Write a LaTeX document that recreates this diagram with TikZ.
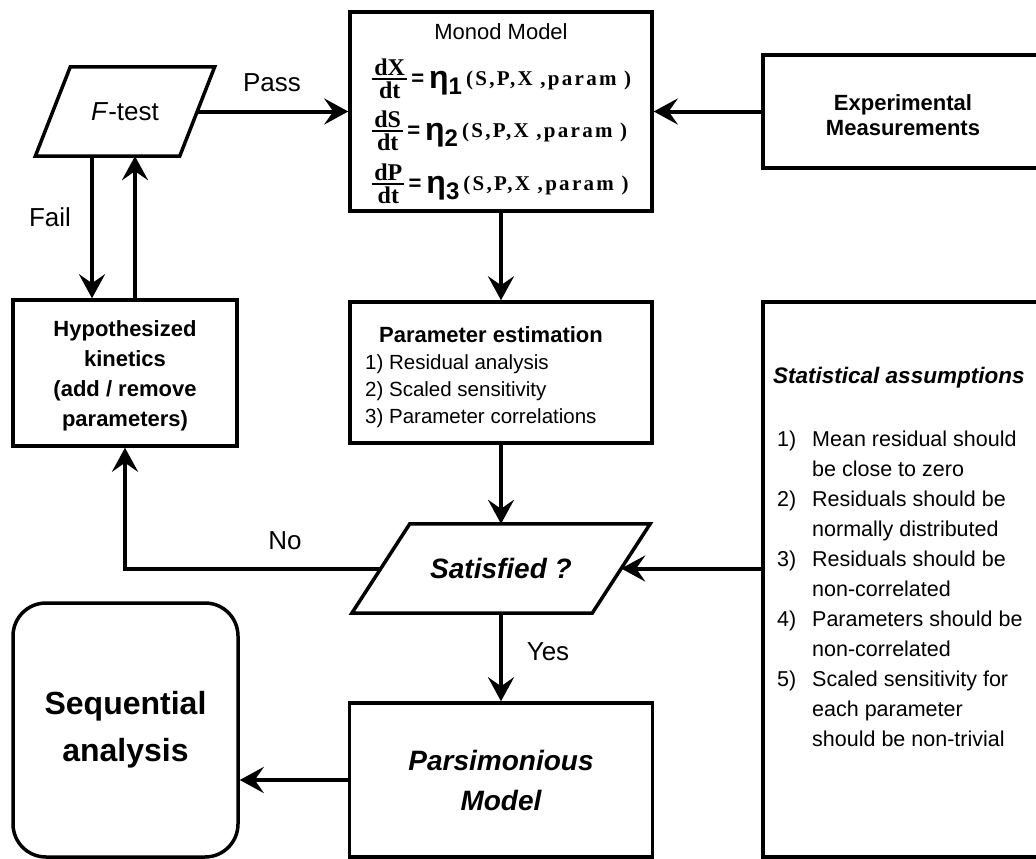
\documentclass[tikz,border=0pt]{standalone}
\usepackage{fontspec}
\setmainfont{Liberation Sans}
\newfontfamily\slabfont{Liberation Serif Bold}
\newfontfamily\argfont{Liberation Serif Bold}[LetterSpace=11]
\usetikzlibrary{arrows.meta,calc}

% font size and leading given in pixels (1px = 1pt here)
\newcommand\px[2]{\fontsize{#1}{#2}\selectfont}

% one rate equation of the Monod model: d#1/dt = eta_#2(S,P,X,param)
\newcommand\monodeq[2]{%
  {\px{24}{24}\slabfont
  $\textstyle{\hbox{\kern2pt#1\kern2pt}\above 2pt\hbox{dt}}$}%
  \hspace{3pt}{\px{22}{22}\bfseries =}\hspace{5pt}%
  \raisebox{-3pt}{\px{32}{32}\bfseries η}%
  \raisebox{-9pt}{\px{24}{24}\bfseries #2}\hspace{4pt}%
  {\px{21}{21}\argfont (S,P,X ,param )}}

% numbered entry with hanging indent
\newcommand\itm[1]{\makebox[35pt][l]{#1}}
\newcommand\cont{\hspace*{35pt}}

\begin{document}
\begin{tikzpicture}[x=1pt,y=-1pt,
  box/.style={draw, rectangle, inner sep=0pt, line width=3.5pt},
  shapeline/.style={draw, line width=3.5pt, line join=miter},
  arr/.style={-{Stealth[length=24pt,width=26pt,inset=9pt]}, line width=4pt},
  lbl/.style={font=\px{26}{26}},
]
\useasboundingbox (0,0) rectangle (1036,859);
\clip (0,0) rectangle (1036,859);

% ---- boxes ----
\node[box, minimum width=302pt, minimum height=199pt] (monod) at (501,111.5) {};
\node[font=\px{22}{22}] (monodtitle) at (501,32) {Monod Model};
\node[anchor=west, inner sep=0pt] (eqx) at (371,79) {\monodeq{dX}{1}};
\node[anchor=west, inner sep=0pt] (eqs) at (371,131) {\monodeq{dS}{2}};
\node[anchor=west, inner sep=0pt] (eqp) at (371,184) {\monodeq{dP}{3}};

\node[box, minimum width=280pt, minimum height=113pt] (exper) at (903,111.5) {};
\node[align=center, font=\px{22}{25}\bfseries] (expertext) at (903,115)
      {Experimental\\Measurements};

% F-test decision (parallelogram drawn round its mid-line box)
\node[minimum width=144pt, minimum height=89pt, inner sep=0pt,
      font=\px{26}{26}] (ftest) at (125,111.5) {\textit{F}-test};
\draw[shapeline] ($(ftest.north west)+(17.5,0)$) -- ($(ftest.north east)+(17.5,0)$)
  -- ($(ftest.south east)+(-17.5,0)$) -- ($(ftest.south west)+(-17.5,0)$) -- cycle;

\node[box, minimum width=224pt, minimum height=146pt] (hypo) at (125,373) {};
\node[align=center, font=\px{22}{30}\bfseries] (hypotext) at (125,376)
      {Hypothesized\\kinetics\\(add / remove\\parameters)};

\node[box, minimum width=302pt, minimum height=141pt] (param) at (501,372.5) {};
\node[font=\px{22}{22}\bfseries] (paramtitle) at (491,335) {Parameter estimation};
\node[anchor=west, align=left, inner sep=0pt, font=\px{20.5}{27}] (paramlist) at (365,391)
  {1) Residual analysis\\2) Scaled sensitivity\\3) Parameter correlations};

\node[box, minimum width=282pt, minimum height=555pt] (stat) at (904,579.5) {};
\node[anchor=west, inner sep=0pt, font=\px{22.5}{22.5}\bfseries\itshape] (stattitle) at (773,378)
  {Statistical assumptions};
\node[anchor=west, align=left, inner sep=0pt, font=\px{21.5}{30}] (statlist) at (777,589)
  {\itm{1)}Mean residual should\\\cont be close to zero\\
   \itm{2)}Residuals should be\\\cont normally distributed\\
   \itm{3)}Residuals should be\\\cont non-correlated\\
   \itm{4)}Parameters should be\\\cont non-correlated\\
   \itm{5)}Scaled sensitivity for\\\cont each parameter\\\cont should be non-trivial};

% Satisfied? decision
\node[minimum width=240pt, minimum height=89pt, inner sep=0pt,
      font=\px{28}{28}\bfseries\itshape] (sat) at (501,568.5) {Satisfied ?};
\draw[shapeline] ($(sat.north west)+(29,0)$) -- ($(sat.north east)+(29,0)$)
  -- ($(sat.south east)+(-29,0)$) -- ($(sat.south west)+(-29,0)$) -- cycle;

\node[box, minimum width=303pt, minimum height=154pt, align=center,
      font=\px{28}{40}\bfseries\itshape] (pars) at (501,780) {Parsimonious\\Model};

\node[box, rounded corners=33pt, minimum width=225pt, minimum height=254pt, align=center,
      font=\px{32}{47}\bfseries] (seq) at (125.5,730) {Sequential\\analysis};

% ---- connectors ----
\draw[arr] (ftest.east) -- (monod.west);
\draw[arr] (exper.west) -- (monod.east);
\draw[arr] (monod.south) -- (param.north);
\draw[arr] (param.south) -- (sat.north);
\draw[arr] (sat.south) -- (pars.north);
\draw[arr] (pars.west) -- (pars.west -| seq.east);
\draw[arr] (sat.east -| stat.west) -- (sat.east);
\draw[arr] (sat.west) -| (hypo.south);
\draw[arr] ($(ftest.south)+(-33,0)$) -- ($(hypo.north)+(-33,0)$);
\draw[arr] ($(hypo.north)+(10,0)$) -- ($(ftest.south)+(10,0)$);

% ---- connector labels ----
\node[lbl] (passlbl) at (272,83) {Pass};
\node[lbl] (faillbl) at (50,217) {Fail};
\node[lbl] (nolbl) at (285,541) {No};
\node[lbl] (yeslbl) at (548,652) {Yes};
\end{tikzpicture}
\end{document}
